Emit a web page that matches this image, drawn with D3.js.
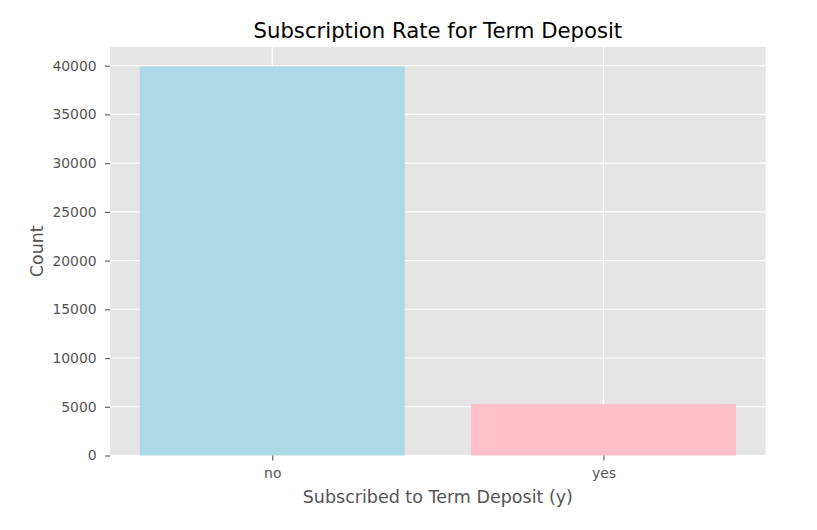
<!DOCTYPE html>
<html><head><meta charset="utf-8">
<script src="https://cdn.jsdelivr.net/npm/d3@7"></script>
<style>body{margin:0;background:#fff}svg{display:block;font-family:"DejaVu Sans",sans-serif}</style>
</head><body><svg id="c" width="817" height="530"></svg>
<script>
const categories = ["no", "yes"];
const counts = [39922, 5289];
const barColors = ["#ADD8E6", "#FFC0CB"];
const yTicks = [0, 5000, 10000, 15000, 20000, 25000, 30000, 35000, 40000];

const svg = d3.select("#c");
const L = 110, R = 765.7, T = 47, B = 455.5;
const x = d3.scaleLinear().domain([-0.49, categories.length - 1 + 0.49]).range([L, R]);
const y = d3.scaleLinear().domain([0, d3.max(counts) * 1.05]).range([B, T]);

svg.append("rect").attr("x", L).attr("y", T).attr("width", R - L).attr("height", B - T).attr("fill", "#E5E5E5");

// grid
svg.append("g").selectAll("line").data(yTicks).join("line")
  .attr("x1", L).attr("x2", R).attr("y1", d => y(d)).attr("y2", d => y(d))
  .attr("stroke", "#fff").attr("stroke-width", 1.1);
svg.append("g").selectAll("line").data(categories).join("line")
  .attr("x1", (d, i) => x(i)).attr("x2", (d, i) => x(i)).attr("y1", T).attr("y2", B)
  .attr("stroke", "#fff").attr("stroke-width", 1.1);

// bars
svg.append("g").selectAll("rect").data(counts).join("rect")
  .attr("x", (d, i) => x(i - 0.4)).attr("width", (d, i) => x(i + 0.4) - x(i - 0.4))
  .attr("y", d => y(d)).attr("height", d => B - y(d))
  .attr("fill", (d, i) => barColors[i]);

// axes
const yAxis = d3.axisLeft(y).tickValues(yTicks).tickSize(4.9).tickPadding(8.5).tickFormat(d3.format("d"));
const gy = svg.append("g").attr("transform", `translate(${L},0)`).call(yAxis);
gy.select(".domain").remove();
gy.selectAll("line").attr("stroke", "#555").attr("stroke-width", 1.1);
gy.selectAll("text").attr("fill", "#555").style("font-size", "13.9px").style("font-family", "DejaVu Sans");

const xAxis = d3.axisBottom(x).tickValues(categories.map((d, i) => i)).tickFormat(i => categories[i]).tickSize(4.9).tickPadding(7.5);
const gx = svg.append("g").attr("transform", `translate(0,${B})`).call(xAxis);
gx.select(".domain").remove();
gx.selectAll("line").attr("stroke", "#555").attr("stroke-width", 1.1);
gx.selectAll("text").attr("fill", "#555").style("font-size", "13.9px").style("font-family", "DejaVu Sans");

// labels
svg.append("text").attr("x", (L + R) / 2).attr("y", 37.5).attr("text-anchor", "middle")
  .style("font-size", "21.2px").attr("fill", "#000").text("Subscription Rate for Term Deposit");
svg.append("text").attr("x", (L + R) / 2).attr("y", 503).attr("text-anchor", "middle")
  .style("font-size", "17.5px").attr("fill", "#555").text("Subscribed to Term Deposit (y)");
svg.append("text").attr("transform", `translate(42.5,${(T + B) / 2}) rotate(-90)`).attr("text-anchor", "middle")
  .style("font-size", "17.5px").attr("fill", "#555").text("Count");
</script></body></html>
